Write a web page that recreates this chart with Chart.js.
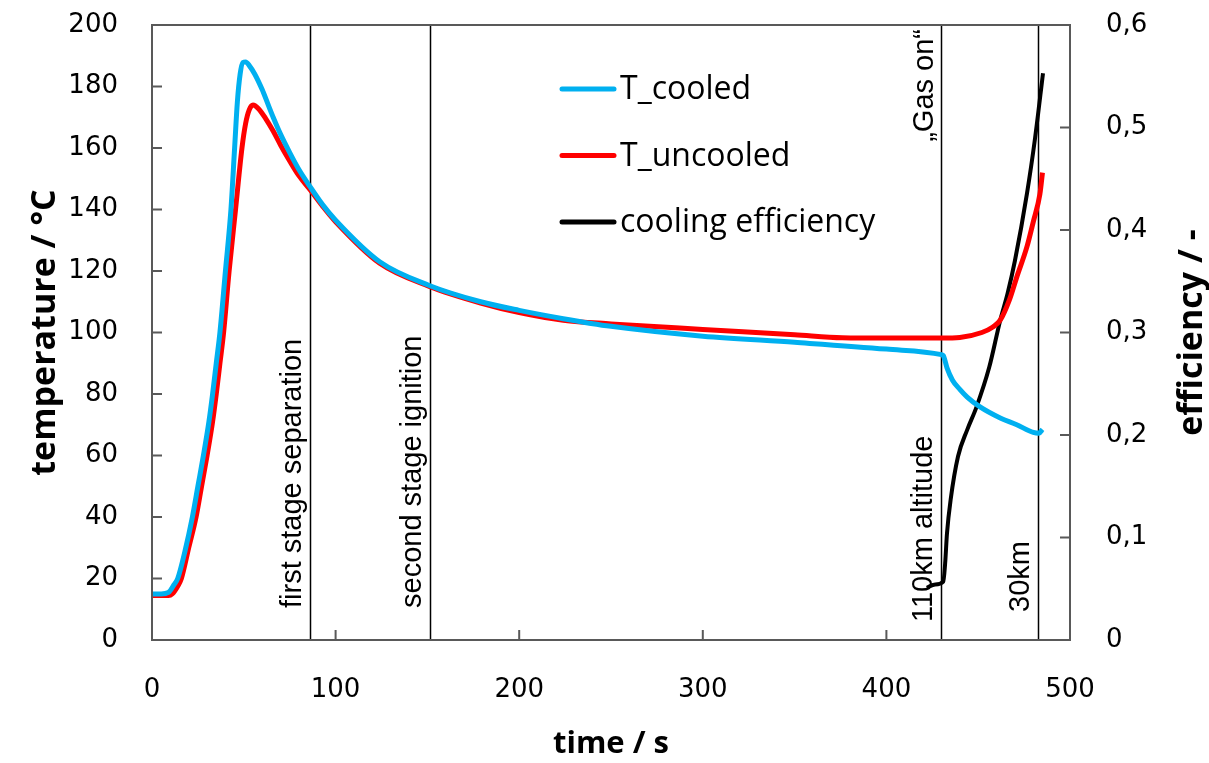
<!DOCTYPE html>
<html>
<head>
<meta charset="utf-8">
<script src="https://cdn.jsdelivr.net/npm/chart.js@4.4.0/dist/chart.umd.min.js"></script>
<style>
  html, body { margin: 0; padding: 0; background: #fff; }
  #wrap { width: 1209px; height: 763px; }
</style>
</head>
<body>
<div id="wrap"><canvas id="tempChart"></canvas></div>
<script>
// time / s and values
const timeCooled = [0, 5, 9, 12, 14, 18, 22, 25, 28, 31, 33, 35, 37, 40, 43, 45, 46.5, 48, 49.5, 51, 53, 56, 60, 63, 66, 70, 75, 80, 86, 93,
    100, 124, 151, 179, 200, 224, 250, 300, 350, 400, 430, 431, 433, 436, 440, 444, 451, 462, 471, 480, 483, 485];
const tempCooled = [15, 15, 15.5, 18, 20, 29, 40, 50, 60, 71, 80, 90, 100, 120, 140, 160, 175, 184, 187.8, 188, 186.8, 184, 179, 174.5, 170, 164.5, 158.5, 153, 147.5, 141.5,
    136.5, 123, 115.3, 110, 107.2, 104.5, 102, 98.8, 96.8, 94.6, 92.8, 92.5, 88.5, 84.5, 81.5, 79, 75.8, 72.2, 70, 67.5, 67.2, 68.5];

const timeUncooled = [0, 9, 11, 14, 16, 20, 24, 27, 30, 33, 35, 37, 39, 42, 45.5, 49, 51, 53, 55, 58, 62, 66, 70, 75, 80, 86, 93,
    100, 124, 151, 179, 200, 224, 250, 300, 350, 376, 400, 430, 440, 452, 458, 462, 467, 471, 476.6, 480, 483.6, 485];
const tempUncooled = [14.5, 14.5, 15, 17.5, 20, 30, 40, 50, 60, 71, 80, 90, 100, 120, 140, 160, 168, 172.5, 174, 172.8, 169.5, 165.5, 161, 155.8, 151, 146.5, 141,
    136, 122.5, 115, 109.6, 106.5, 104, 102.8, 101, 99.3, 98.3, 98.2, 98.2, 98.4, 100, 101.8, 104, 110.6, 118, 128, 136, 145, 152];

const timeEff = [422, 426, 431, 432, 433, 435, 439, 444, 449, 456, 462, 466, 470, 476.6, 481, 485.3];
const efficiency = [0.051, 0.054, 0.057, 0.075, 0.104, 0.137, 0.179, 0.205, 0.227, 0.266, 0.312, 0.338, 0.37, 0.436, 0.49, 0.553];

const xTicks = [0, 100, 200, 300, 400, 500];
const tempTicks = [0, 20, 40, 60, 80, 100, 120, 140, 160, 180, 200];
const effTicks = [0, 0.1, 0.2, 0.3, 0.4, 0.5, 0.6];

const eventTimes = [86, 151.4, 430, 482.6];
const eventLabels = ['first stage separation', 'second stage ignition', '110km altitude', '30km'];
const gasOnLabel = '\u201EGas on\u201C';
const effTitle = 'efficiency / -';

function toPoints(xs, ys) {
    return xs.map((x, i) => ({x: x, y: ys[i]}));
}

const axisColor = '#595959';
const tickFont = {family: 'DejaVu Sans', size: 26};
const titleFont = {family: 'Open Sans', size: 34, weight: 'bold'};

// frame, inward tick marks, event lines, right title and the legend
const decorations = {
    id: 'decorations',
    beforeDatasetsDraw(chart) {
        const ctx = chart.ctx;
        const area = chart.chartArea;
        const xs = chart.scales.x;
        ctx.save();
        ctx.strokeStyle = '#000';
        ctx.lineWidth = 1.5;
        eventTimes.forEach(t => {
            const px = Math.round(xs.getPixelForValue(t)) + 0.5;
            ctx.beginPath();
            ctx.moveTo(px, area.top);
            ctx.lineTo(px, area.bottom);
            ctx.stroke();
        });
        // rotated labels next to the lines
        ctx.fillStyle = '#000';
        ctx.font = '29px "Liberation Sans"';
        ctx.textBaseline = 'middle';
        const bottoms = [608, 608, 622, 612];
        eventLabels.forEach((lab, i) => {
            const px = xs.getPixelForValue(eventTimes[i]) - 17;
            ctx.save();
            ctx.translate(px, bottoms[i]);
            ctx.rotate(-Math.PI / 2);
            ctx.textAlign = 'left';
            ctx.fillText(lab, 0, 0);
            ctx.restore();
        });
        ctx.save();
        ctx.translate(xs.getPixelForValue(eventTimes[2]) - 16, area.top + 4);
        ctx.rotate(-Math.PI / 2);
        ctx.textAlign = 'right';
        ctx.fillText(gasOnLabel, 0, 0);
        ctx.restore();
        ctx.restore();
    },
    afterDraw(chart) {
        const ctx = chart.ctx;
        const area = chart.chartArea;
        const s = chart.scales;
        ctx.save();
        ctx.strokeStyle = axisColor;
        ctx.lineWidth = 2;
        ctx.strokeRect(area.left, area.top, area.right - area.left, area.bottom - area.top);
        const len = 10;
        ctx.beginPath();
        tempTicks.forEach(v => {
            const py = s.y.getPixelForValue(v);
            ctx.moveTo(area.left, py);
            ctx.lineTo(area.left + len, py);
        });
        effTicks.forEach(v => {
            const py = s.y1.getPixelForValue(v);
            ctx.moveTo(area.right, py);
            ctx.lineTo(area.right - len, py);
        });
        xTicks.forEach(v => {
            const px = s.x.getPixelForValue(v);
            ctx.moveTo(px, area.bottom);
            ctx.lineTo(px, area.bottom - len);
        });
        ctx.stroke();

        // right axis title, reading bottom to top like the left one
        ctx.save();
        ctx.fillStyle = '#000';
        ctx.font = 'bold 34px "Open Sans"';
        ctx.textAlign = 'center';
        ctx.textBaseline = 'middle';
        ctx.translate(1192, (area.top + area.bottom) / 2);
        ctx.rotate(-Math.PI / 2);
        ctx.fillText(effTitle, 0, 0);
        ctx.restore();

        // legend
        const lx = 562, ly = 89, gap = 66.5;
        ctx.font = '32px "Open Sans"';
        ctx.textAlign = 'left';
        ctx.textBaseline = 'middle';
        ctx.lineCap = 'round';
        chart.data.datasets.forEach((ds, i) => {
            const y = ly + i * gap;
            ctx.strokeStyle = ds.borderColor;
            ctx.lineWidth = 5;
            ctx.beginPath();
            ctx.moveTo(lx, y);
            ctx.lineTo(lx + 52, y);
            ctx.stroke();
            ctx.fillStyle = '#000';
            ctx.fillText(ds.label, lx + 58, y + 1);
        });
        ctx.restore();
    }
};

new Chart(document.getElementById('tempChart'), {
    type: 'line',
    data: {
        datasets: [
            {
                label: 'T_cooled',
                data: toPoints(timeCooled, tempCooled),
                borderColor: '#00B0F0',
                borderWidth: 5,
                pointRadius: 0,
                cubicInterpolationMode: 'monotone',
                yAxisID: 'y'
            },
            {
                label: 'T_uncooled',
                data: toPoints(timeUncooled, tempUncooled),
                borderColor: '#FF0000',
                borderWidth: 5,
                pointRadius: 0,
                cubicInterpolationMode: 'monotone',
                yAxisID: 'y'
            },
            {
                label: 'cooling efficiency',
                data: toPoints(timeEff, efficiency),
                borderColor: '#000000',
                borderWidth: 4,
                pointRadius: 0,
                cubicInterpolationMode: 'monotone',
                yAxisID: 'y1'
            }
        ]
    },
    options: {
        responsive: true,
        maintainAspectRatio: false,
        animation: false,
        layout: {padding: {top: 25, left: 0, right: 0, bottom: 0}},
        plugins: {
            legend: {display: false},
            tooltip: {enabled: false}
        },
        scales: {
            x: {
                type: 'linear',
                min: 0,
                max: 500,
                afterBuildTicks: sc => { sc.ticks = xTicks.map(v => ({value: v})); },
                afterFit: sc => { sc.height = 123; },
                grid: {display: false, drawTicks: true, tickLength: 35},
                border: {display: false},
                ticks: {font: tickFont, color: '#000', padding: 0, maxRotation: 0},
                title: {display: true, text: 'time / s', font: {family: 'Open Sans', size: 31, weight: 'bold'}, color: '#000', padding: 0}
            },
            y: {
                position: 'left',
                min: 0,
                max: 200,
                afterBuildTicks: sc => { sc.ticks = tempTicks.map(v => ({value: v})); },
                afterFit: sc => { sc.width = 152; },
                grid: {display: false, drawTicks: true, tickLength: 34},
                border: {display: false},
                ticks: {font: tickFont, color: '#000', padding: 0},
                title: {display: true, text: 'temperature / \u00B0C', font: titleFont, color: '#000', padding: 25}
            },
            y1: {
                position: 'right',
                min: 0,
                max: 0.6,
                afterBuildTicks: sc => { sc.ticks = effTicks.map(v => ({value: v})); },
                afterFit: sc => { sc.width = 139; },
                grid: {display: false, drawTicks: true, tickLength: 36},
                border: {display: false},
                ticks: {
                    font: tickFont,
                    color: '#000',
                    padding: 0,
                    callback: v => v === 0 ? '0' : v.toFixed(1).replace('.', ',')
                },
                title: {display: false}
            }
        }
    },
    plugins: [decorations]
});
</script>
</body>
</html>
